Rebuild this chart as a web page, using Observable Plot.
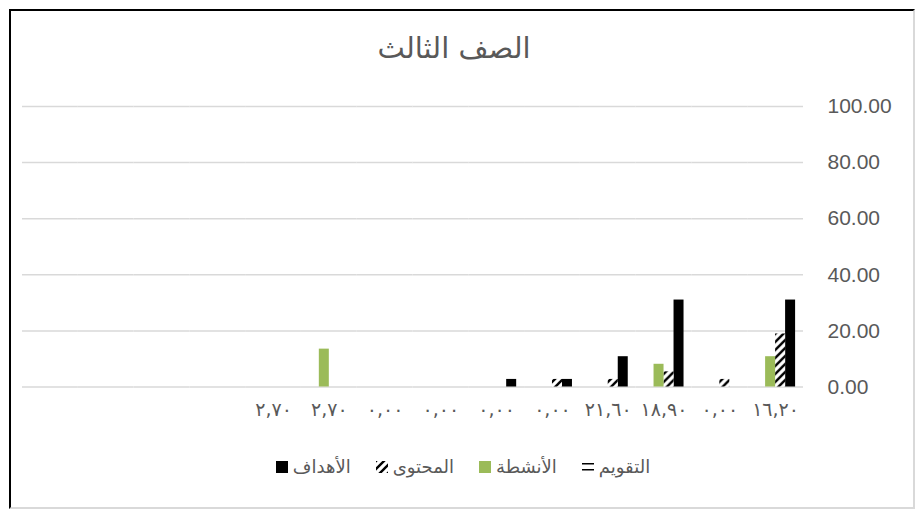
<!DOCTYPE html>
<html lang="ar">
<head>
<meta charset="utf-8">
<script src="https://cdn.jsdelivr.net/npm/d3@7"></script>
<script src="https://cdn.jsdelivr.net/npm/@observablehq/plot@0.6"></script>
<style>
  html, body { margin: 0; padding: 0; background: #fff; }
  #wrap { position: relative; width: 923px; height: 531px; overflow: hidden; background: #fff; }
  #frame { position: absolute; left: 9px; top: 9px; width: 902px; height: 496px;
           border-top: 2px solid #000; border-left: 2px solid #000;
           border-right: 2px solid #d9d9d9; border-bottom: 2px solid #d9d9d9; }
  #title { position: absolute; left: 0; top: 31px; width: 908px; text-align: center;
           font: 29px "DejaVu Sans", sans-serif; color: #595959; direction: rtl; }
  #chart { position: absolute; left: 0; top: 80px; }
  #legend { position: absolute; left: 0; top: 456px; width: 926px; display: flex; justify-content: center;
            gap: 25px; font: 18px "DejaVu Sans", sans-serif; color: #595959; }
  .item { display: flex; align-items: center; gap: 5px; }
  .item svg { display: block; }
  .item span { direction: rtl; }
  #chart g[aria-label="y-axis tick label"] { font: 21px "Liberation Sans", Arial, sans-serif; fill: #595959; }
  #chart g[aria-label="fx-axis tick label"] { font: 19px "DejaVu Sans", sans-serif; fill: #595959; letter-spacing: 0.5px; }
</style>
</head>
<body>
<div id="wrap">
  <div id="frame"></div>
  <div id="title"></div>
  <div id="chart"></div>
  <div id="legend"></div>
</div>
<svg width="0" height="0" style="position:absolute">
  <defs>
    <pattern id="diag" patternUnits="userSpaceOnUse" width="8" height="8">
      <rect width="8" height="8" fill="#fff"/>
      <path d="M-2,10 L10,-2 M-2,2 L2,-2 M6,10 L10,6" stroke="#000" stroke-width="2.4"/>
    </pattern>
    <pattern id="hlines" patternUnits="userSpaceOnUse" width="6" height="6">
      <rect width="6" height="6" fill="#fff"/>
      <rect y="2" width="6" height="1.5" fill="#000"/>
    </pattern>
  </defs>
</svg>
<script>
// ---- data ----
const title = "الصف الثالث";
const seriesNames = ["الأهداف", "المحتوى", "الأنشطة", "التقويم"];
const seriesColors = ["#000000", "url(#diag)", "#9bbb59", "url(#hlines)"];
// category labels, first category is drawn at the right (RTL axis)
const catLabels = ["١٦,٢٠", "٠,٠٠", "١٨,٩٠", "٢١,٦٠", "٠,٠٠", "٠,٠٠", "٠,٠٠", "٠,٠٠", "٢,٧٠", "٢,٧٠", "", "", "", ""];
const goals      = [31, 0, 31, 10.8, 2.7, 2.7, 0, 0, 0, 0, 0, 0, 0, 0];
const content    = [18.9, 2.7, 5.4, 2.7, 2.7, 0, 0, 0, 0, 0, 0, 0, 0, 0];
const activities = [10.8, 0, 8.1, 0, 0, 0, 0, 0, 13.5, 0, 0, 0, 0, 0];
const evaluation = [0, 0, 0, 0, 0, 0, 0, 0, 0, 0, 0, 0, 0, 0];
const yTicks = [0, 20, 40, 60, 80, 100];

// ---- build table ----
const seriesValues = [goals, content, activities, evaluation];
const rows = [];
catLabels.forEach((_, i) => {
  seriesNames.forEach((s, k) => rows.push({cat: i, series: s, value: seriesValues[k][i]}));
});

document.getElementById("title").textContent = title;

const chart = Plot.plot({
  width: 923,
  height: 380,
  marginLeft: 22,
  marginRight: 120,
  marginTop: 26,
  marginBottom: 73.5,
  fx: {domain: d3.range(catLabels.length), reverse: true, padding: 0, round: false, label: null,
       tickFormat: i => catLabels[i], tickSize: 0, tickPadding: 15, axis: "bottom"},
  x: {domain: seriesNames, reverse: true, paddingInner: 0, paddingOuter: 0.79, round: false, axis: null},
  y: {domain: [0, 100], axis: "right", ticks: yTicks, tickFormat: d => d.toFixed(2),
      tickSize: 0, tickPadding: 24, label: null},
  color: {domain: seriesNames, range: seriesColors},
  marks: [
    Plot.ruleY(yTicks, {stroke: "#d9d9d9", strokeWidth: 1.5}),
    Plot.barY(rows, {fx: "cat", x: "series", y: "value", fill: "series"})
  ]
});
document.getElementById("chart").appendChild(chart);

// ---- legend ----
const legend = document.getElementById("legend");
seriesNames.forEach((s, k) => {
  const item = document.createElement("div");
  item.className = "item";
  item.innerHTML = `<svg width="12" height="12"><rect width="12" height="12" fill="${seriesColors[k]}"/></svg>`;
  const span = document.createElement("span");
  span.textContent = s;
  item.appendChild(span);
  legend.appendChild(item);
});
</script>
</body>
</html>
